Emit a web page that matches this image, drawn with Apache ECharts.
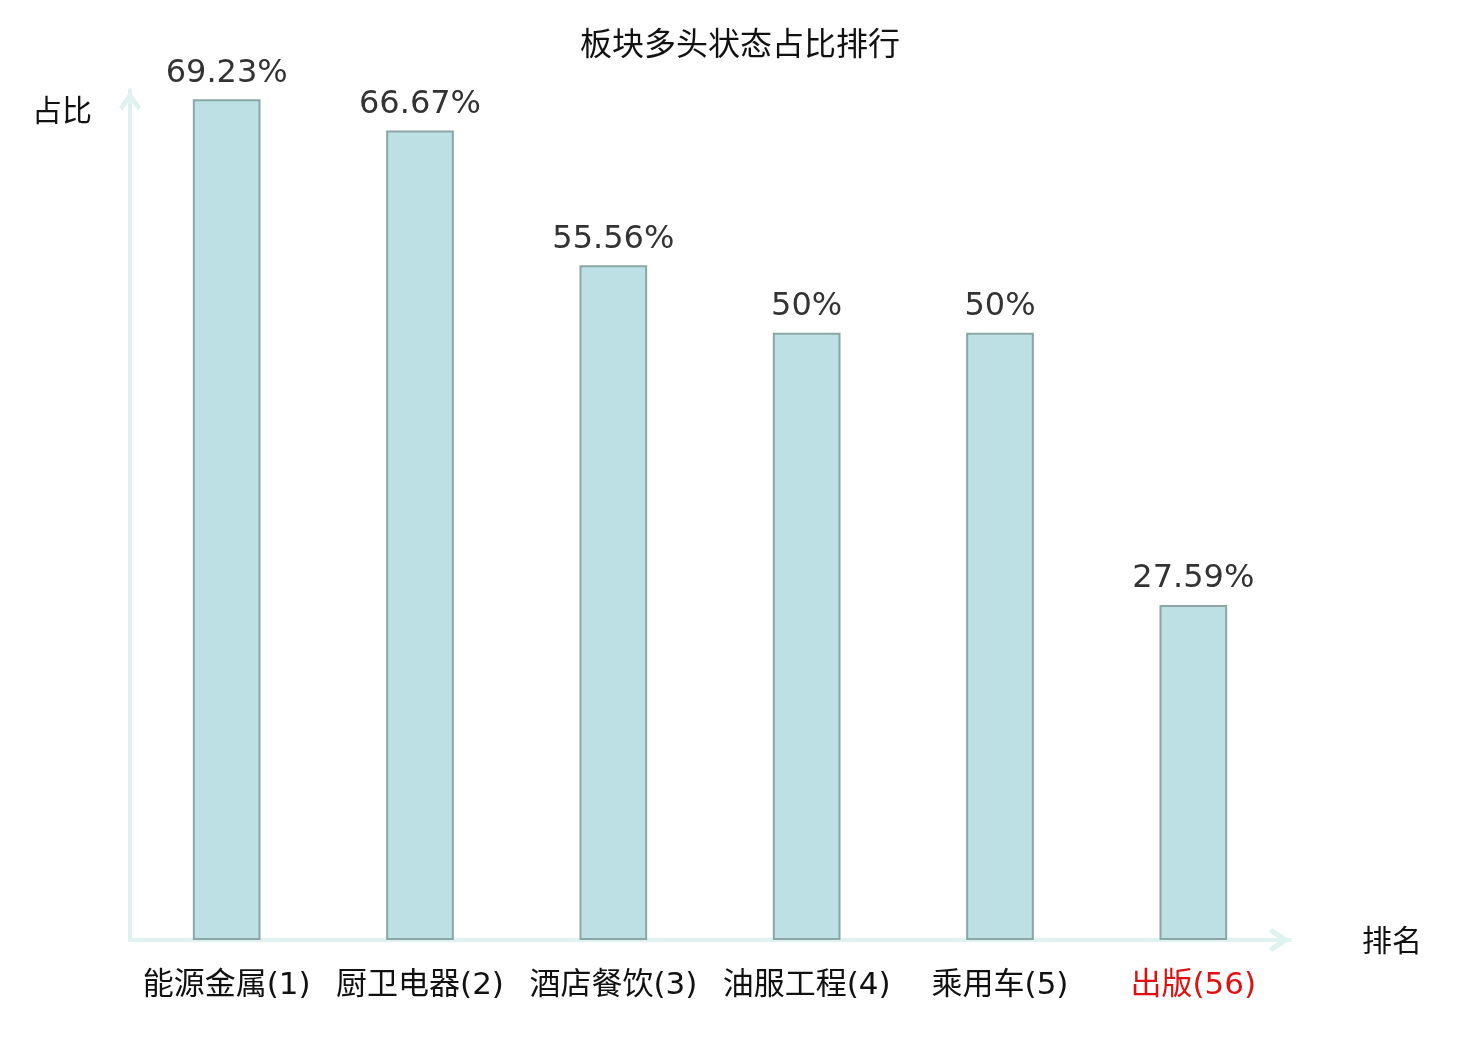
<!DOCTYPE html>
<html>
<head>
<meta charset="utf-8">
<script src="https://cdn.jsdelivr.net/npm/echarts@6/dist/echarts.min.js"></script>
<style>
  html, body { margin: 0; padding: 0; background: #fff; }
  #chart { width: 1480px; height: 1040px; }
</style>
</head>
<body>
<div id="chart"></div>
<script>
const categories = ['能源金属(1)', '厨卫电器(2)', '酒店餐饮(3)', '油服工程(4)', '乘用车(5)', '出版(56)']
const ratios = [69.23, 66.67, 55.56, 50, 50, 27.59]
// 最后一项是被关注的板块，标红
const highlightIndex = 5

// 空心箭头（折线形），代替默认的实心三角
const OPEN_ARROW = 'path://M12,0 L24,17 L20.5,21 L12,9 L3.5,21 L0,17 Z'

const chart = echarts.init(document.getElementById('chart'))

const option = {
  animation: false,
  title: {
    text: '板块多头状态占比排行',
    left: 'center',
    top: 22,
    textStyle: {
      fontFamily: 'Noto Sans CJK SC',
      fontSize: 32,
      fontWeight: 'normal',
      color: '#111'
    }
  },
  grid: {
    left: 130,
    right: 190,
    top: 90,
    bottom: 100
  },
  xAxis: {
    type: 'category',
    data: categories,
    name: '排名',
    nameLocation: 'end',
    nameGap: 72,
    nameTextStyle: {
      fontFamily: 'Noto Sans CJK SC',
      fontSize: 30,
      color: '#111',
      verticalAlign: 'middle'
    },
    axisLine: {
      symbol: ['none', OPEN_ARROW],
      symbolSize: [24, 22],
      symbolOffset: [0, -11],
      lineStyle: { color: '#dff2ef', width: 4 }
    },
    axisTick: { show: false },
    axisLabel: {
      margin: 30,
      fontFamily: '"DejaVu Sans", "Noto Sans CJK SC"',
      fontSize: 31,
      interval: 0,
      color: (value, index) => index === highlightIndex ? '#e01010' : '#111'
    }
  },
  yAxis: {
    type: 'value',
    min: 0,
    max: 70,
    name: '占比',
    nameLocation: 'end',
    nameGap: -20,
    nameTextStyle: {
      fontFamily: 'Noto Sans CJK SC',
      fontSize: 30,
      color: '#111',
      align: 'right',
      verticalAlign: 'middle',
      padding: [0, 38, 0, 0]
    },
    axisLine: {
      show: true,
      symbol: ['none', OPEN_ARROW],
      symbolSize: [22, 22],
      symbolOffset: [0, -11],
      lineStyle: { color: '#dff2ef', width: 4 }
    },
    axisTick: { show: false },
    axisLabel: { show: false },
    splitLine: { show: false }
  },
  series: [{
    type: 'bar',
    data: ratios,
    barWidth: '35%',
    itemStyle: {
      color: '#bce0e3',
      borderColor: '#8aa6a7',
      borderWidth: 2
    },
    label: {
      show: true,
      position: 'top',
      distance: 10,
      fontFamily: 'DejaVu Sans',
      fontSize: 32,
      color: '#333',
      formatter: (p) => p.value + '%'
    }
  }]
}

chart.setOption(option)
</script>
</body>
</html>
